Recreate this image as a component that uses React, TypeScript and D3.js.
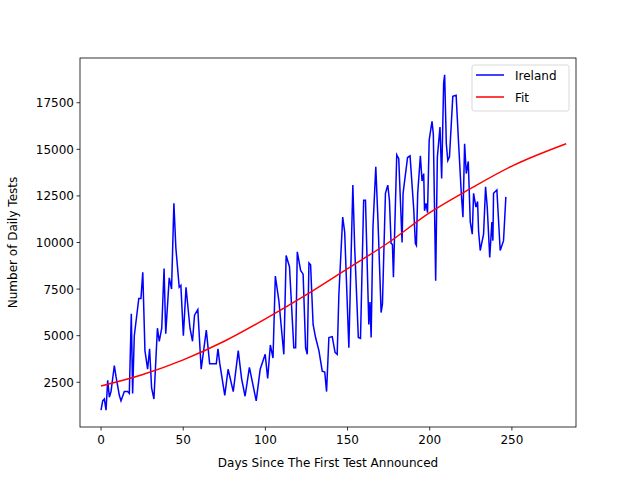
import React from "react";
import * as d3 from "d3";

const days = [0,1,2,3,4,5,6,8,9,11,12,14,16,17,18.2,19,20,22.7,24,25.1,26.4,28,29.2,30.4,31.8,33.9,35,36.5,37.9,38.9,41,42.4,43.8,45,47,48,49.5,51.1,53.5,55,56.2,58.2,60.2,63.3,65.3,69.3,70.3,71.4,74.4,76.4,79.5,82.5,84.5,86.6,89.2,93.3,95.7,98.7,100.2,101.8,103.4,104.8,106.9,109.9,111.3,113.3,115.9,117,118,120,121.5,123,124,125,126,127.5,129,131,133,134.5,135.6,137,139,140.7,142,143,145.3,146.5,149,151.4,152.5,154.7,156,157.9,159,161,161.7,162.4,163.5,165.2,166.5,168.4,169.2,171,172.4,173.4,174.4,175.2,175.8,177.8,179,181,181.6,184.3,185.8,188,189,189.6,190.4,192,193,194,194.5,195.4,196.3,197.3,199,199.8,201.2,202.2,203.8,204.8,206,206.6,207.6,208.5,209.5,211.5,213.5,215,216.6,217.6,218.6,219.6,220.8,222,223.2,224,225.4,226.4,227,228,230,231.2,232.2,233.7,235,235.6,236,238,240,242,243.4];
const tests = [1000,1500,1600,1000,2600,1700,2000,3400,2800,1800,1500,2000,2000,1900,6180,1900,5000,7000,7000,8400,4200,3200,4300,2200,1600,5400,4700,5400,8600,5100,8100,7500,12100,9700,7600,7700,5000,7600,5400,4700,6100,6400,3200,5300,3500,3500,4300,3500,1800,3200,2000,4200,2700,1750,3300,1500,3200,4000,2700,4500,3800,8200,6900,4000,9300,8700,4350,4350,9500,8500,8300,4350,4000,8900,8800,5600,4900,4200,3100,3050,2000,4900,4950,4100,4000,7200,11360,10550,4350,13080,9750,4900,4850,12270,12270,5600,6800,4900,10830,14060,11200,6240,6700,12640,13080,12270,9950,9900,8130,14700,14500,10000,12640,14560,14650,11800,9950,9850,12640,14650,13300,13700,11700,12100,11600,15500,16500,15800,7950,14560,16200,13440,18560,19000,15300,14400,14600,17840,17900,15300,12640,11360,15300,13700,14350,11100,10450,12640,11900,12200,10600,9570,10450,12990,11900,9200,11100,10100,12640,12820,9570,10100,12450];
const fitDays = [0,25,50,75,100,125,150,175,200,225,250,283];
const fitVals = [2300,2900,3700,4700,5900,7200,8600,10000,11600,12900,14100,15300];
const xTicks = [0,50,100,150,200,250];
const yTicks = [2500,5000,7500,10000,12500,15000,17500];

export default function App() {
  const L = 80, R = 576, T = 58, B = 427;
  const x = d3.scaleLinear().domain([-12.8, 289]).range([L, R]);
  const y = d3.scaleLinear().domain([100, 19900]).range([B, T]);
  const line = d3.line<number>().x((_, i) => x(days[i] * 1.012)).y(d => y(d));
  const fit = d3.line<number>().x((_, i) => x(fitDays[i])).y(d => y(d)).curve(d3.curveMonotoneX);
  const font = "DejaVu Sans";
  return (
    <svg width={640} height={480} style={{ display: "block", position: "absolute", left: 0, top: 0 }} fontFamily={font}>
      <rect width={640} height={480} fill="white" />
      <path d={line(tests) || ""} fill="none" stroke="#0000ff" strokeWidth={1.5} />
      <path d={fit(fitVals) || ""} fill="none" stroke="#ff0000" strokeWidth={1.5} />
      <rect x={L} y={T} width={R - L} height={B - T} fill="none" stroke="black" strokeWidth={0.8} />
      {xTicks.map(t => (
        <g key={t}>
          <line x1={x(t)} x2={x(t)} y1={B} y2={B + 3.5} stroke="black" strokeWidth={0.8} />
          <text x={x(t)} y={B + 17} fontSize={12} textAnchor="middle">{t}</text>
        </g>
      ))}
      {yTicks.map(t => (
        <g key={t}>
          <line x1={L - 3.5} x2={L} y1={y(t)} y2={y(t)} stroke="black" strokeWidth={0.8} />
          <text x={L - 6} y={y(t) + 4.5} fontSize={12} textAnchor="end">{t}</text>
        </g>
      ))}
      <text x={(L + R) / 2} y={467} fontSize={12} textAnchor="middle">Days Since The First Test Announced</text>
      <text transform={`translate(17,${(T + B) / 2}) rotate(-90)`} fontSize={12} textAnchor="middle">Number of Daily Tests</text>
      <rect x={472} y={65} width={97} height={46} rx={2} fill="white" stroke="#cccccc" strokeWidth={0.8} opacity={0.9} />
      <line x1={476} x2={504} y1={75} y2={75} stroke="#0000ff" strokeWidth={1.5} />
      <text x={515} y={80} fontSize={12}>Ireland</text>
      <line x1={476} x2={504} y1={97} y2={97} stroke="#ff0000" strokeWidth={1.5} />
      <text x={515} y={102} fontSize={12}>Fit</text>
    </svg>
  );
}
